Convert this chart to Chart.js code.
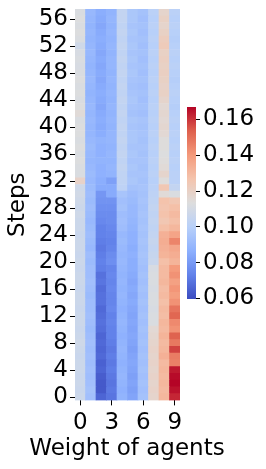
<!DOCTYPE html>
<html>
<head>
<meta charset="utf-8">
<script src="https://cdn.jsdelivr.net/npm/chart.js@4"></script>
<style>
    body { margin: 0; background: #fff; }
    #wrap { position: relative; width: 266px; height: 469px; }
    canvas { position: absolute; top: 0; }
    #heat { left: 0; }
    #cbar { left: 180px; }
</style>
</head>
<body>
<div id="wrap">
    <canvas id="heat" width="254" height="469"></canvas>
    <canvas id="cbar" width="86" height="469"></canvas>
</div>
<script>

// weights on the x axis, steps on the y axis
const weights = ["0", "1", "2", "3", "4", "5", "6", "7", "8", "9"];
const stepCount = 58;
const stepTicks = [0, 4, 8, 12, 16, 20, 24, 28, 32, 36, 40, 44, 48, 52, 56];

// one array per weight, value for step 0 first
const w0 = [0.107,0.106,0.107,0.106,0.107,0.107,0.106,0.107,0.108,0.107,
    0.106,0.107,0.107,0.106,0.107,0.107,0.106,0.107,0.107,0.106,
    0.107,0.106,0.107,0.107,0.106,0.107,0.107,0.108,0.107,0.108,
    0.109,0.108,0.119,0.112,0.112,0.113,0.112,0.113,0.112,0.113,
    0.113,0.112,0.115,0.113,0.112,0.113,0.112,0.113,0.112,0.111,
    0.112,0.111,0.108,0.112,0.113,0.112,0.113,0.112];
const w1 = [0.093,0.094,0.093,0.092,0.093,0.092,0.093,0.092,0.093,0.092,
    0.091,0.092,0.093,0.092,0.092,0.091,0.092,0.093,0.092,0.092,
    0.091,0.092,0.090,0.091,0.092,0.091,0.090,0.091,0.092,0.091,
    0.092,0.091,0.090,0.091,0.090,0.089,0.090,0.091,0.090,0.089,
    0.089,0.090,0.089,0.090,0.089,0.088,0.089,0.090,0.089,0.088,
    0.089,0.090,0.089,0.088,0.089,0.088,0.089,0.090];
const w2 = [0.066,0.063,0.063,0.064,0.066,0.065,0.067,0.066,0.067,0.066,
    0.068,0.069,0.068,0.067,0.069,0.069,0.068,0.070,0.069,0.072,
    0.073,0.072,0.071,0.072,0.073,0.073,0.075,0.076,0.077,0.078,
    0.079,0.085,0.086,0.087,0.087,0.088,0.087,0.087,0.088,0.086,
    0.085,0.086,0.085,0.084,0.085,0.086,0.085,0.084,0.085,0.084,
    0.085,0.084,0.085,0.086,0.085,0.084,0.085,0.086];
const w3 = [0.070,0.071,0.070,0.071,0.072,0.071,0.072,0.071,0.072,0.073,
    0.073,0.074,0.073,0.075,0.074,0.074,0.075,0.074,0.075,0.074,
    0.077,0.076,0.074,0.073,0.074,0.075,0.076,0.076,0.077,0.078,
    0.085,0.085,0.082,0.088,0.089,0.088,0.089,0.088,0.089,0.089,
    0.088,0.089,0.088,0.089,0.088,0.089,0.088,0.089,0.088,0.089,
    0.089,0.088,0.089,0.088,0.089,0.088,0.089,0.088];
const w4 = [0.088,0.087,0.088,0.089,0.088,0.087,0.088,0.089,0.088,0.087,
    0.088,0.089,0.088,0.087,0.088,0.089,0.088,0.089,0.088,0.089,
    0.090,0.089,0.090,0.091,0.090,0.092,0.093,0.092,0.094,0.093,
    0.095,0.102,0.103,0.103,0.104,0.103,0.104,0.103,0.104,0.103,
    0.104,0.103,0.104,0.103,0.104,0.103,0.104,0.103,0.104,0.103,
    0.104,0.103,0.104,0.103,0.104,0.103,0.104,0.104];
const w5 = [0.083,0.082,0.083,0.082,0.083,0.084,0.083,0.082,0.083,0.084,
    0.083,0.084,0.083,0.084,0.085,0.084,0.085,0.084,0.085,0.086,
    0.086,0.087,0.086,0.087,0.087,0.088,0.089,0.090,0.090,0.091,
    0.092,0.094,0.096,0.095,0.096,0.095,0.096,0.095,0.096,0.096,
    0.095,0.096,0.094,0.095,0.096,0.095,0.094,0.095,0.096,0.095,
    0.096,0.095,0.096,0.095,0.096,0.095,0.096,0.096];
const w6 = [0.094,0.093,0.094,0.093,0.094,0.093,0.094,0.093,0.094,0.093,
    0.094,0.093,0.094,0.093,0.094,0.093,0.094,0.093,0.094,0.093,
    0.094,0.095,0.094,0.095,0.094,0.095,0.094,0.095,0.094,0.095,
    0.094,0.095,0.094,0.095,0.094,0.095,0.094,0.095,0.094,0.095,
    0.094,0.095,0.093,0.094,0.093,0.094,0.093,0.094,0.093,0.094,
    0.093,0.094,0.093,0.094,0.093,0.094,0.093,0.094];
const w7 = [0.118,0.119,0.118,0.119,0.118,0.119,0.118,0.119,0.118,0.117,
    0.116,0.112,0.112,0.111,0.112,0.112,0.111,0.112,0.112,0.111,
    0.106,0.105,0.104,0.105,0.104,0.103,0.104,0.103,0.104,0.103,
    0.102,0.101,0.100,0.101,0.100,0.101,0.100,0.101,0.100,0.101,
    0.100,0.101,0.100,0.101,0.100,0.101,0.100,0.101,0.100,0.101,
    0.100,0.101,0.100,0.101,0.100,0.101,0.100,0.101];
const w8 = [0.131,0.130,0.131,0.130,0.131,0.130,0.133,0.131,0.130,0.132,
    0.130,0.131,0.129,0.130,0.128,0.130,0.129,0.131,0.130,0.130,
    0.128,0.132,0.133,0.134,0.133,0.128,0.125,0.127,0.126,0.127,
    0.115,0.125,0.114,0.118,0.115,0.114,0.113,0.114,0.114,0.116,
    0.117,0.116,0.117,0.116,0.118,0.120,0.119,0.120,0.121,0.120,
    0.121,0.120,0.123,0.122,0.120,0.118,0.120,0.118];
const w9 = [0.162,0.165,0.167,0.166,0.164,0.146,0.147,0.158,0.148,0.153,
    0.142,0.144,0.152,0.149,0.142,0.139,0.141,0.138,0.142,0.140,
    0.132,0.134,0.136,0.145,0.137,0.131,0.128,0.130,0.128,0.125,
    0.112,0.104,0.101,0.101,0.100,0.101,0.100,0.101,0.100,0.101,
    0.100,0.101,0.100,0.099,0.100,0.101,0.100,0.099,0.100,0.101,
    0.100,0.101,0.100,0.099,0.100,0.101,0.100,0.101];

const columns = [w0, w1, w2, w3, w4, w5, w6, w7, w8, w9];

// colour bar range and ticks
const cbMin = 0.0597;
const cbMax = 0.167;
const cbTicks = [0.06, 0.08, 0.10, 0.12, 0.14, 0.16];

// coolwarm, sampled at eighths
const coolwarm = [
    [59, 76, 192],
    [98, 130, 234],
    [141, 176, 254],
    [184, 208, 249],
    [221, 221, 221],
    [244, 196, 173],
    [244, 154, 123],
    [222, 96, 77],
    [180, 4, 38]
];

function cmap(v) {

    let t = (v - cbMin) / (cbMax - cbMin);
    t = Math.min(1, Math.max(0, t));

    const pos = t * (coolwarm.length - 1);
    const i = Math.min(coolwarm.length - 2, Math.floor(pos));
    const f = pos - i;

    const c = coolwarm[i].map((a, k) =>
        Math.round(a + (coolwarm[i + 1][k] - a) * f)
    );

    return "rgb(" + c.join(",") + ")";

}

Chart.defaults.color = "#000";
Chart.defaults.font = { family: "DejaVu Sans", size: 23 };

// one floating bar dataset per step row
const datasets = [];

for (let r = 0; r < stepCount; r++) {

    datasets.push({
        data: weights.map(() => [r, r + 1]),
        backgroundColor: columns.map(col => cmap(col[r])),
        borderWidth: 0,
        barPercentage: 1,
        categoryPercentage: 1
    });

}

new Chart(document.getElementById("heat"), {

    type: "bar",

    data: {
        labels: weights,
        datasets
    },

    options: {

        responsive: false,
        animation: false,

        layout: {
            padding: { top: 9, right: 0, left: 0, bottom: 0 }
        },

        plugins: {
            legend: { display: false },
            tooltip: { enabled: false },
            title: {
                display: true,
                position: "bottom",
                text: "Weight of agents",
                font: { family: "DejaVu Sans", size: 23, weight: "normal" },
                padding: { top: 0, bottom: 6 }
            }
        },

        scales: {

            x: {
                stacked: true,
                afterFit: scale => {
                    scale.height = 35;
                    scale.paddingLeft = 0;
                    scale.paddingRight = 0;
                },
                grid: {
                    offset: false,
                    drawOnChartArea: false,
                    tickLength: 5,
                    color: ctx => ctx.index % 3 === 0 ? "#000" : "rgba(0,0,0,0)"
                },
                border: { display: false },
                ticks: {
                    autoSkip: false,
                    maxRotation: 0,
                    padding: 4,
                    callback: (value, index) => index % 3 === 0 ? weights[index] : ""
                }
            },

            y: {
                min: 0,
                max: stepCount,
                afterFit: scale => {
                    scale.width = 75;
                    scale.paddingTop = 0;
                    scale.paddingBottom = 0;
                },
                afterBuildTicks: scale => {
                    scale.ticks = stepTicks.map(s => ({ value: s + 0.5 }));
                },
                grid: {
                    drawOnChartArea: false,
                    tickLength: 5,
                    color: "#000"
                },
                border: { display: false },
                ticks: {
                    autoSkip: false,
                    padding: 2,
                    callback: value => String(Math.round(value - 0.5))
                },
                title: {
                    display: true,
                    text: "Steps",
                    padding: { top: 4, bottom: 4 }
                }
            },

            // keeps room on the right for the colour bar
            spare: {
                position: "right",
                afterFit: scale => {
                    scale.width = 74;
                    scale.paddingTop = 0;
                    scale.paddingBottom = 0;
                },
                grid: { display: false },
                border: { display: false },
                ticks: { display: false }
            }

        }

    }

});

new Chart(document.getElementById("cbar"), {

    type: "bar",

    data: {
        labels: ["cb"],
        datasets: [{
            data: [[cbMin, cbMax]],
            borderWidth: 0,
            barPercentage: 1,
            categoryPercentage: 1,
            backgroundColor: ctx => {
                const area = ctx.chart.chartArea;
                if (!area) {
                    return null;
                }
                const g = ctx.chart.ctx.createLinearGradient(0, area.bottom, 0, area.top);
                coolwarm.forEach((c, i) => {
                    g.addColorStop(i / (coolwarm.length - 1), "rgb(" + c.join(",") + ")");
                });
                return g;
            }
        }]
    },

    options: {

        responsive: false,
        animation: false,

        layout: {
            padding: { top: 107, right: 0, left: 7, bottom: 170 }
        },

        plugins: {
            legend: { display: false },
            tooltip: { enabled: false }
        },

        scales: {

            x: { display: false },

            y: {
                position: "right",
                min: cbMin,
                max: cbMax,
                afterFit: scale => {
                    scale.width = 70;
                    scale.paddingTop = 0;
                    scale.paddingBottom = 0;
                },
                afterBuildTicks: scale => {
                    scale.ticks = cbTicks.map(v => ({ value: v }));
                },
                grid: {
                    drawOnChartArea: false,
                    tickLength: 4,
                    color: "#000"
                },
                border: { display: false },
                ticks: {
                    padding: 3,
                    callback: value => value.toFixed(2)
                }
            }

        }

    }

});

</script>
</body>
</html>
